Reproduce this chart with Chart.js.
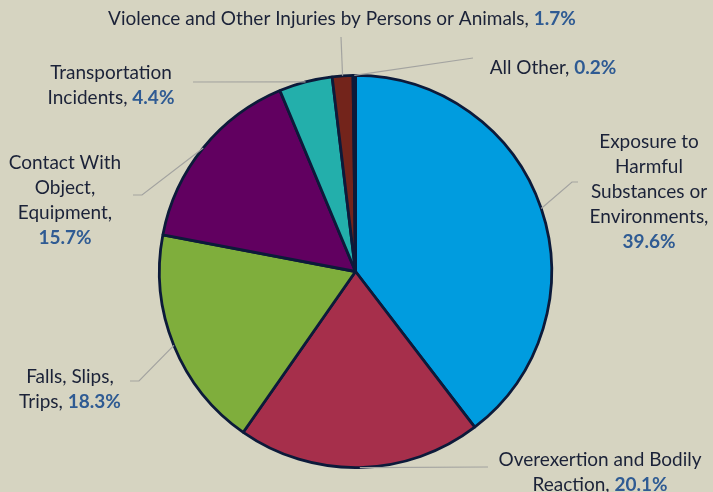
<!DOCTYPE html>
<html>
<head>
<meta charset="utf-8">
<script src="https://cdn.jsdelivr.net/npm/chart.js@4/dist/chart.umd.min.js"></script>
<style>
  html, body { margin: 0; padding: 0; background: #d6d4c1; }
  #wrap { width: 713px; height: 492px; position: relative; }
</style>
</head>
<body>
<div id="wrap"><canvas id="c"></canvas></div>
<script>
// Share of cases by event or exposure
const categories = [
  'Exposure to Harmful Substances or Environments',
  'Overexertion and Bodily Reaction',
  'Falls, Slips, Trips',
  'Contact With Object, Equipment',
  'Transportation Incidents',
  'Violence and Other Injuries by Persons or Animals',
  'All Other'
];
const shares = [39.6, 20.1, 18.3, 15.7, 4.4, 1.7, 0.2];
const sliceColors = ['#009cdf', '#a62f4b', '#7fae3c', '#610060', '#23afab', '#73241b', '#0e1d44'];

// Label placement: wrapped name lines, text centre x, first line centre y,
// whether the percentage goes on its own line, and the leader path after the arc point.
const labelLayout = [
  { lines: ['Exposure to', 'Harmful', 'Substances or', 'Environments,'], pctOwnLine: true, cx: 649, cy: 142, path: [[572, 182], [578, 182]] },
  { lines: ['Overexertion and Bodily', 'Reaction,'], pctOwnLine: false, cx: 600, cy: 460, path: [[488, 467]] },
  { lines: ['Falls, Slips,', 'Trips,'], pctOwnLine: false, cx: 70, cy: 377, path: [[139, 381], [130, 381]] },
  { lines: ['Contact With', 'Object,', 'Equipment,'], pctOwnLine: true, cx: 65, cy: 163, path: [[142, 195], [133, 195]] },
  { lines: ['Transportation', 'Incidents,'], pctOwnLine: false, cx: 111, cy: 73, path: [[193, 82]] },
  { lines: ['Violence and Other Injuries by Persons or Animals,'], pctOwnLine: false, cx: 342, cy: 19, path: [[341, 37]] },
  { lines: ['All Other,'], pctOwnLine: false, cx: 553, cy: 68, path: [[473, 58]] }
];

const FONT = 'Lato, "Open Sans", sans-serif';
const FONT_SIZE = 19;
const LINE_H = 25;

const calloutPlugin = {
  id: 'callouts',
  afterDatasetsDraw(chart) {
    const ctx = chart.ctx;
    const meta = chart.getDatasetMeta(0);
    ctx.save();
    meta.data.forEach((arc, i) => {
      const L = labelLayout[i];
      const p = arc.getProps(['x', 'y', 'startAngle', 'endAngle', 'outerRadius'], true);
      const mid = (p.startAngle + p.endAngle) / 2;
      const sx = p.x + Math.cos(mid) * p.outerRadius;
      const sy = p.y + Math.sin(mid) * p.outerRadius;
      ctx.beginPath();
      ctx.strokeStyle = '#a3a3a0';
      ctx.lineWidth = 1.2;
      ctx.moveTo(sx, sy);
      L.path.forEach(pt => ctx.lineTo(pt[0], pt[1]));
      ctx.stroke();

      const pct = shares[i].toFixed(1) + '%';
      const rows = L.lines.map(t => ({ name: t, pct: '' }));
      if (L.pctOwnLine) rows.push({ name: '', pct: pct });
      else rows[rows.length - 1].pct = pct;

      ctx.textBaseline = 'middle';
      ctx.textAlign = 'left';
      rows.forEach((r, k) => {
        const y = L.cy + k * LINE_H;
        const nameTxt = r.name && r.pct ? r.name + ' ' : r.name;
        ctx.font = `${FONT_SIZE}px ${FONT}`;
        const w1 = ctx.measureText(nameTxt).width;
        ctx.font = `bold ${FONT_SIZE}px ${FONT}`;
        const w2 = ctx.measureText(r.pct).width;
        let x = L.cx - (w1 + w2) / 2;
        ctx.font = `${FONT_SIZE}px ${FONT}`;
        ctx.fillStyle = '#1b2238';
        ctx.fillText(nameTxt, x, y);
        ctx.font = `bold ${FONT_SIZE}px ${FONT}`;
        ctx.fillStyle = '#2f5b93';
        ctx.fillText(r.pct, x + w1, y);
      });
    });
    ctx.restore();
  }
};

new Chart(document.getElementById('c'), {
  type: 'pie',
  data: {
    labels: categories,
    datasets: [{
      data: shares,
      backgroundColor: sliceColors,
      borderColor: '#0c1a3a',
      borderWidth: 2.8
    }]
  },
  options: {
    responsive: true,
    maintainAspectRatio: false,
    animation: false,
    layout: { padding: { top: 74, bottom: 23, left: 150, right: 152 } },
    plugins: { legend: { display: false }, tooltip: { enabled: false } }
  },
  plugins: [calloutPlugin]
});
</script>
</body>
</html>
